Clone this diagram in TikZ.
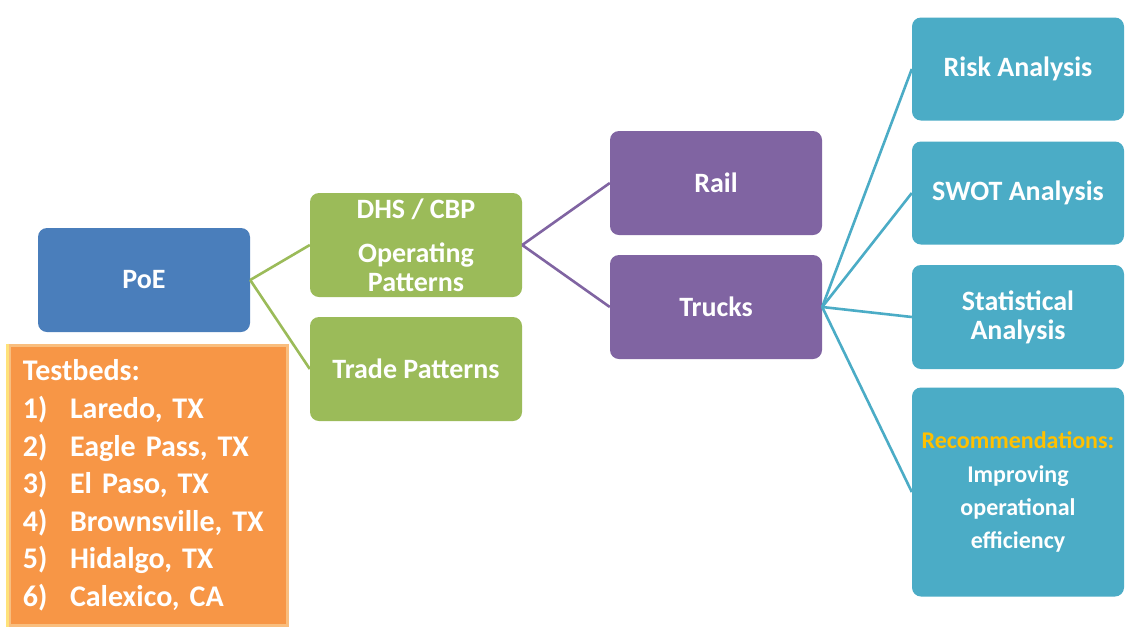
\documentclass[tikz,border=0pt]{standalone}
\usepackage{fontspec}
\setmainfont{Carlito}
\frenchspacing
\definecolor{poeblue}{HTML}{4A7EBB}
\definecolor{ogreen}{HTML}{9BBB59}
\definecolor{opurple}{HTML}{8064A2}
\definecolor{oteal}{HTML}{4BACC6}
\definecolor{oorange}{HTML}{F79646}
\definecolor{oorangeedge}{HTML}{F9BE7E}
\definecolor{oyellow}{HTML}{FFE27A}
\definecolor{ogold}{HTML}{FFC000}
\tikzset{
  box/.style={rounded corners=9pt, minimum width=212pt, minimum height=104pt,
    inner sep=0pt, align=center, text=white, font=\fontsize{28}{29}\selectfont\bfseries},
  bluebox/.style={box, fill=poeblue},
  greenbox/.style={box, fill=ogreen},
  purplebox/.style={box, fill=opurple},
  tealbox/.style={box, fill=oteal},
  gline/.style={ogreen, line width=2.6pt},
  pline/.style={opurple, line width=2.6pt},
  tline/.style={oteal, line width=2.6pt},
}
\begin{document}
\begin{tikzpicture}[x=1pt,y=-1pt]
\useasboundingbox (0,0) rectangle (1129,638);
\fill[white] (0,0) rectangle (1129,638);

% nodes
\node[bluebox] (poe) at (144,280) {PoE};

\node[rectangle, fill=oorange, draw=oorangeedge, line width=3pt,
      minimum width=278pt, minimum height=280pt, inner sep=0pt,
      text width=250pt, align=left, text=white,
      font=\fontsize{30}{37.5}\selectfont\bfseries] (tb) at (148,485)
  {\frenchspacing Testbeds:\\[1pt]
   \makebox[47pt][l]{1)}Laredo, TX\\
   \makebox[47pt][l]{2)}Eagle Pass, TX\\
   \makebox[47pt][l]{3)}El Paso, TX\\
   \makebox[47pt][l]{4)}Brownsville, TX\\
   \makebox[47pt][l]{5)}Hidalgo, TX\\
   \makebox[47pt][l]{6)}Calexico, CA};
\draw[oyellow, line width=3pt] (tb.north west) -- (tb.south west);

\node[greenbox] (dhs) at (416,245) {DHS / CBP\\[15pt]Operating\\Patterns};
\node[greenbox] (trade) at (416,369) {Trade Patterns};

\node[purplebox] (rail) at (716,183) {Rail};
\node[purplebox] (trucks) at (716,307) {Trucks};

\node[tealbox, minimum height=103pt] (risk) at (1018,69) {Risk Analysis};
\node[tealbox, minimum height=103pt] (swot) at (1018,193) {SWOT Analysis};
\node[tealbox] (stat) at (1018,317) {Statistical\\Analysis};
\node[tealbox, minimum height=209pt, font=\fontsize{24}{33}\selectfont\bfseries] (rec) at (1018,492)
  {{\fontsize{24}{24}\selectfont\color{ogold}Recommendations:}\\[1pt]Improving\\operational\\efficiency};

% connectors
\draw[gline] (poe.east) -- (dhs.west);
\draw[gline] (poe.east) -- (trade.west);
\draw[pline] (dhs.east) -- (rail.west);
\draw[pline] (dhs.east) -- (trucks.west);
\draw[tline] (trucks.east) -- (risk.west);
\draw[tline] (trucks.east) -- (swot.west);
\draw[tline] (trucks.east) -- (stat.west);
\draw[tline] (trucks.east) -- (rec.west);
\end{tikzpicture}
\end{document}
